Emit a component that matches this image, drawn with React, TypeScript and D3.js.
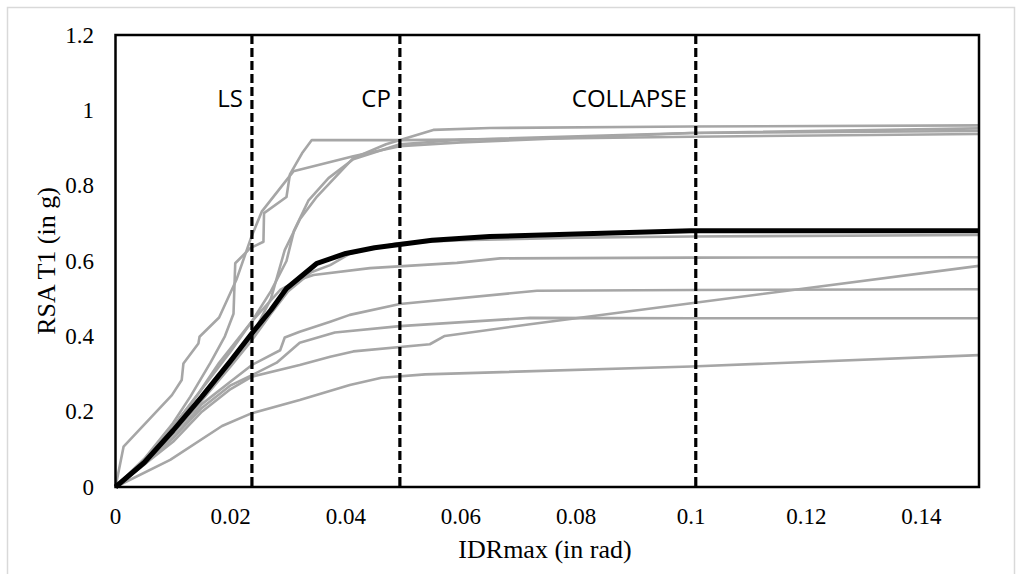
import React from "react";
import * as d3 from "d3";

type Pt = [number, number];

// Individual IDA curves (IDRmax in rad, RSA T1 in g)
const curveT1: Pt[] = [[0,0],[0.005,0.075],[0.01,0.17],[0.013,0.24],[0.0165,0.33],[0.019,0.40],[0.0205,0.46],[0.0208,0.594],[0.0234,0.634],[0.0257,0.651],[0.0258,0.727],[0.0297,0.77],[0.0303,0.83],[0.0324,0.886],[0.0341,0.921],[0.05,0.921],[0.08,0.926],[0.1,0.93],[0.15,0.937]];
const curveT2: Pt[] = [[0,0],[0.0014,0.107],[0.0098,0.244],[0.0115,0.284],[0.0118,0.328],[0.0144,0.381],[0.0146,0.399],[0.018,0.45],[0.021,0.55],[0.0236,0.664],[0.0254,0.731],[0.0309,0.838],[0.0413,0.878],[0.0494,0.905],[0.06,0.915],[0.1,0.94],[0.15,0.952]];
const curveT3: Pt[] = [[0,0],[0.005,0.07],[0.01,0.15],[0.015,0.24],[0.02,0.33],[0.0237,0.40],[0.027,0.5],[0.0294,0.629],[0.032,0.71],[0.035,0.771],[0.0413,0.873],[0.047,0.91],[0.0552,0.948],[0.065,0.953],[0.1,0.957],[0.15,0.96]];
const curveT4: Pt[] = [[0,0],[0.005,0.07],[0.01,0.16],[0.015,0.26],[0.02,0.36],[0.0237,0.44],[0.027,0.52],[0.0297,0.6],[0.031,0.68],[0.0335,0.76],[0.037,0.82],[0.0413,0.87],[0.0494,0.91],[0.06,0.922],[0.1,0.94],[0.15,0.945]];
const curve67: Pt[] = [[0,0],[0.005,0.065],[0.01,0.14],[0.015,0.23],[0.02,0.32],[0.0237,0.39],[0.027,0.46],[0.03,0.52],[0.034,0.57],[0.0373,0.589],[0.0408,0.62],[0.0489,0.647],[0.06,0.655],[0.08,0.662],[0.1,0.665],[0.15,0.669]];
const curve61: Pt[] = [[0,0],[0.005,0.07],[0.01,0.16],[0.0145,0.25],[0.018,0.33],[0.0237,0.44],[0.0286,0.523],[0.032,0.551],[0.0344,0.563],[0.0442,0.581],[0.0593,0.595],[0.0668,0.607],[0.1,0.609],[0.15,0.61]];
const curve52: Pt[] = [[0,0],[0.005,0.06],[0.01,0.13],[0.015,0.22],[0.02,0.28],[0.0237,0.324],[0.0286,0.363],[0.0294,0.397],[0.032,0.412],[0.0373,0.439],[0.0407,0.457],[0.0494,0.486],[0.0732,0.521],[0.1,0.523],[0.15,0.525]];
const curve45: Pt[] = [[0,0],[0.005,0.06],[0.01,0.13],[0.015,0.21],[0.02,0.27],[0.0237,0.297],[0.028,0.33],[0.032,0.383],[0.0381,0.41],[0.0494,0.427],[0.072,0.449],[0.1,0.448],[0.15,0.448]];
const curveRise: Pt[] = [[0,0],[0.005,0.06],[0.01,0.12],[0.015,0.2],[0.02,0.26],[0.0237,0.293],[0.032,0.324],[0.0373,0.346],[0.0413,0.36],[0.0546,0.379],[0.0572,0.401],[0.072,0.432],[0.1,0.488],[0.15,0.587]];
const curveLow: Pt[] = [[0,0],[0.0095,0.072],[0.0185,0.162],[0.0237,0.196],[0.032,0.231],[0.0407,0.271],[0.0462,0.29],[0.0538,0.299],[0.1,0.32],[0.15,0.35]];

const grayCurves: Pt[][] = [curveLow, curveRise, curve45, curve52, curve61, curve67, curveT4, curveT3, curveT2, curveT1];

// Median curve
const medianCurve: Pt[] = [[0,0],[0.005,0.065],[0.01,0.15],[0.015,0.24],[0.02,0.335],[0.0237,0.408],[0.027,0.47],[0.0297,0.527],[0.035,0.594],[0.04,0.62],[0.045,0.635],[0.05,0.645],[0.055,0.655],[0.065,0.665],[0.08,0.672],[0.1,0.68],[0.15,0.68]];

// Limit states
const limitNames = ["LS", "CP", "COLLAPSE"];
const limitValues = [0.0237, 0.0494, 0.1008];

const xTicks = [0, 0.02, 0.04, 0.06, 0.08, 0.1, 0.12, 0.14];
const xTickLabels = ["0", "0.02", "0.04", "0.06", "0.08", "0.1", "0.12", "0.14"];
const yTicks = [0, 0.2, 0.4, 0.6, 0.8, 1, 1.2];
const yTickLabels = ["0", "0.2", "0.4", "0.6", "0.8", "1", "1.2"];

export default function App() {
  const W = 1022, H = 574;
  const left = 115.5, right = 979, top = 35, bottom = 487;
  const x = d3.scaleLinear().domain([0, 0.15]).range([left, right]);
  const y = d3.scaleLinear().domain([0, 1.2]).range([bottom, top]);
  const line = d3.line<Pt>().x(d => x(d[0])).y(d => y(d[1]));
  const serif = "'Liberation Serif', 'Times New Roman', serif";
  const sans = "'Open Sans', sans-serif";

  return (
    <svg width={W} height={H} style={{ position: "absolute", left: 0, top: 0, background: "#fff" }}>
      <rect x={7.5} y={7.5} width={1007} height={580} fill="#fff" stroke="#d9d9d9" strokeWidth={1.5} />
      {grayCurves.map((c, i) => (
        <path key={i} d={line(c) || ""} fill="none" stroke="#a6a6a6" strokeWidth={2.6} strokeLinejoin="round" />
      ))}
      <path d={line(medianCurve) || ""} fill="none" stroke="#000" strokeWidth={5} strokeLinejoin="round" />
      {limitValues.map((v, i) => (
        <g key={i}>
          <line x1={x(v)} x2={x(v)} y1={top} y2={bottom} stroke="#000" strokeWidth={3.2} strokeDasharray="9,4" />
          <text x={x(v) - 9} y={107} textAnchor="end" fontFamily={sans} fontSize={24} fill="#000">{limitNames[i]}</text>
        </g>
      ))}
      <rect x={left} y={top} width={right - left} height={bottom - top} fill="none" stroke="#000" strokeWidth={2.5} />
      {yTicks.map((t, i) => (
        <text key={i} x={94} y={y(t)} dy="0.33em" textAnchor="end" fontFamily={serif} fontSize={23} fill="#000">{yTickLabels[i]}</text>
      ))}
      {xTicks.map((t, i) => (
        <text key={i} x={x(t)} y={524} textAnchor="middle" fontFamily={serif} fontSize={23} fill="#000">{xTickLabels[i]}</text>
      ))}
      <text x={545} y={558} textAnchor="middle" fontFamily={serif} fontSize={26} fill="#000">IDRmax  (in rad)</text>
      <text transform={`translate(55,${(top + bottom) / 2}) rotate(-90)`} textAnchor="middle" fontFamily={serif} fontSize={26} fill="#000">RSA T1  (in g)</text>
    </svg>
  );
}
